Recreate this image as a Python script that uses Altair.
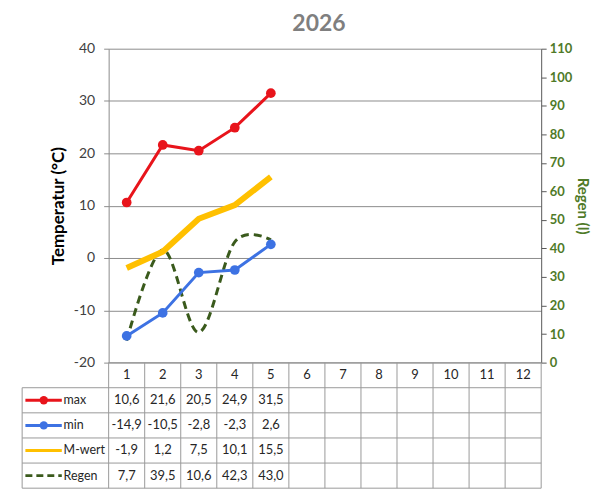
import altair as alt
import pandas as pd

# ---------------- data ----------------
months = list(range(1, 13))
data_months = [1, 2, 3, 4, 5]
max_vals = [10.6, 21.6, 20.5, 24.9, 31.5]
min_vals = [-14.9, -10.5, -2.8, -2.3, 2.6]
mwert_vals = [-1.9, 1.2, 7.5, 10.1, 15.5]
regen_vals = [7.7, 39.5, 10.6, 42.3, 43.0]
series = ["max", "min", "M-wert", "Regen"]
series_colors = ["#E8141B", "#3D72E3", "#FFC000", "#3A5A1C"]
series_widths = [3, 3, 6, 3]
series_dash = [[1, 0], [1, 0], [1, 0], [7, 4]]
temp_ticks = [-20, -10, 0, 10, 20, 30, 40]
regen_ticks = list(range(0, 111, 10))
title_text = "2026"

W, H = 434, 315
TABLE_H = 126
LEG_LEFT = -1.9  # legend column left edge in column units

FONT = "Lato"
GRID = "#8C8C8C"
GREEN = "#4F7A28"

# long temperature table
rows = []
for s, vals in zip(["max", "min", "M-wert"], [max_vals, min_vals, mwert_vals]):
    for m, v in zip(data_months, vals):
        rows.append({"monat": m, "serie": s, "wert": v})
df_temp = pd.DataFrame(rows)
df_regen = pd.DataFrame({"monat": data_months, "regen": regen_vals})

# ---------------- top chart ----------------
X = alt.X("monat:Q", scale=alt.Scale(domain=[0.5, 12.5]), axis=None)
TY = alt.Y(
    "wert:Q",
    scale=alt.Scale(domain=[-20, 40]),
    axis=alt.Axis(
        orient="left", values=temp_ticks, title="Temperatur (°C)",
        labelExpr="'' + datum.value",
        grid=True, gridColor=GRID, gridWidth=1, gridOpacity=1,
        domainColor=GRID, tickColor=GRID, tickSize=5,
        labelFontSize=14, labelColor="#404040", labelPadding=9,
        titleFontSize=17, titleFontWeight="bold", titleColor="#000000",
        titlePadding=6,
    ),
)
RY = alt.Y(
    "regen:Q",
    scale=alt.Scale(domain=[0, 110]),
    axis=alt.Axis(
        orient="right", values=regen_ticks, title="Regen (l)", grid=False,
        domainColor="#595959", tickColor="#595959", tickSize=5,
        labelFontSize=13, labelFontWeight="bold", labelColor=GREEN,
        labelPadding=3, titleFontSize=15, titleFontWeight="bold",
        titleColor=GREEN, titlePadding=3,
    ),
)

base_t = alt.Chart(df_temp)


def temp_series(name, color, width, points):
    f = base_t.transform_filter(alt.datum.serie == name)
    line = f.mark_line(color=color, strokeWidth=width).encode(x=X, y=TY)
    if points:
        pts = f.mark_circle(color=color, size=95, opacity=1).encode(x=X, y=TY)
        return [line, pts]
    return [line]


temp_layers = (
    temp_series("M-wert", series_colors[2], 6, False)
    + temp_series("max", series_colors[0], 3, True)
    + temp_series("min", series_colors[1], 3, True)
)
temp = alt.layer(*temp_layers)

regen = alt.Chart(df_regen).mark_line(
    color=series_colors[3], strokeWidth=3, strokeDash=[8, 5], interpolate="cardinal"
).encode(x=X, y=RY)

top = (
    alt.layer(regen, temp)
    .resolve_scale(y="independent")
    .properties(
        width=W, height=H,
        title=alt.TitleParams(title_text, fontSize=23, fontWeight="bold",
                              color="#7F7F7F", font=FONT, offset=6, dx=-6,
                              frame="group", anchor="middle"),
    )
)

# ---------------- table ----------------
row_of = {"max": 3.5, "min": 2.5, "M-wert": 1.5, "Regen": 0.5}
cells = []
for s, vals in zip(series, [max_vals, min_vals, mwert_vals, regen_vals]):
    for m, v in zip(data_months, vals):
        cells.append({"x": m, "y": row_of[s], "t": f"{v:.1f}".replace(".", ",")})
df_cells = pd.DataFrame(cells)
df_header = pd.DataFrame({"x": months, "y": [4.5] * 12, "t": [str(m) for m in months]})

hl = [{"x": LEG_LEFT, "x2": 12.5, "y": yy} for yy in [0, 1, 2, 3, 4]]
hl.append({"x": 0.5, "x2": 12.5, "y": 5})
df_h = pd.DataFrame(hl)
vl = [{"x": 0.5 + k, "y": 0, "y2": 5} for k in range(13)]
vl.append({"x": LEG_LEFT, "y": 0, "y2": 4})
df_v = pd.DataFrame(vl)

df_leg = pd.DataFrame({
    "serie": series,
    "y": [row_of[s] for s in series],
    "xl": [LEG_LEFT + 0.09] * 4,
    "xr": [LEG_LEFT + 1.1] * 4,
    "xm": [LEG_LEFT + 0.6] * 4,
    "xt": [LEG_LEFT + 1.15] * 4,
})

TX = alt.Scale(domain=[0.5, 12.5])
TYs = alt.Scale(domain=[0, 5])
col_scale = alt.Scale(domain=series, range=series_colors)

hlines = alt.Chart(df_h).mark_rule(color="#9A9A9A", strokeWidth=1).encode(
    x=alt.X("x:Q", scale=TX, axis=None), x2="x2:Q",
    y=alt.Y("y:Q", scale=TYs, axis=None))
vlines = alt.Chart(df_v).mark_rule(color="#9A9A9A", strokeWidth=1).encode(
    x=alt.X("x:Q", scale=TX, axis=None),
    y=alt.Y("y:Q", scale=TYs, axis=None), y2="y2:Q")
cell_text = alt.Chart(df_cells).mark_text(fontSize=13, color="#262626", font=FONT).encode(
    x=alt.X("x:Q", scale=TX, axis=None), y=alt.Y("y:Q", scale=TYs, axis=None), text="t:N")
head_text = alt.Chart(df_header).mark_text(fontSize=13, color="#262626", font=FONT).encode(
    x=alt.X("x:Q", scale=TX, axis=None), y=alt.Y("y:Q", scale=TYs, axis=None), text="t:N")
leg_lines = alt.Chart(df_leg).mark_rule().encode(
    x=alt.X("xl:Q", scale=TX, axis=None), x2="xr:Q",
    y=alt.Y("y:Q", scale=TYs, axis=None),
    color=alt.Color("serie:N", scale=col_scale, legend=None),
    strokeWidth=alt.StrokeWidth("serie:N", scale=alt.Scale(domain=series, range=series_widths), legend=None),
    strokeDash=alt.StrokeDash("serie:N", scale=alt.Scale(domain=series, range=series_dash), legend=None),
)
leg_pts = alt.Chart(df_leg).transform_filter(
    (alt.datum.serie == "max") | (alt.datum.serie == "min")
).mark_circle(size=70, opacity=1).encode(
    x=alt.X("xm:Q", scale=TX, axis=None), y=alt.Y("y:Q", scale=TYs, axis=None),
    color=alt.Color("serie:N", scale=col_scale, legend=None))
leg_text = alt.Chart(df_leg).mark_text(fontSize=12.5, color="#262626", align="left", font=FONT).encode(
    x=alt.X("xt:Q", scale=TX, axis=None), y=alt.Y("y:Q", scale=TYs, axis=None), text="serie:N")

table = alt.layer(hlines, vlines, leg_lines, leg_pts, cell_text, head_text, leg_text).properties(
    width=W, height=TABLE_H)

chart = (
    alt.vconcat(top, table, spacing=0, bounds="flush")
    .properties(padding={"left": 13, "top": 4, "right": 2, "bottom": 2})
    .configure(font=FONT)
    .configure_view(stroke=None)
)

chart.save("out.html", embed_options={"renderer": "svg", "actions": False})
